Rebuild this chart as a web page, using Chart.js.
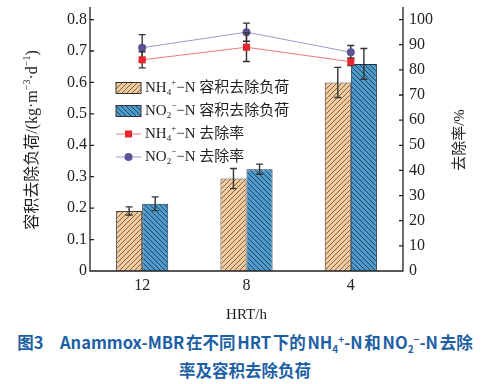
<!DOCTYPE html>
<html>
<head>
<meta charset="utf-8">
<script src="https://cdn.jsdelivr.net/npm/chart.js@4.4.1/dist/chart.umd.min.js"></script>
<style>
  html, body { margin: 0; padding: 0; background: #fff; width: 490px; height: 384px; overflow: hidden; }
  #wrap { position: relative; width: 490px; height: 328px; }
  #cap { width: 490px; text-align: center; color: #1d5fa5; font-family: "Noto Sans CJK SC", sans-serif;
         font-weight: 700; font-size: 16.5px; line-height: 28px; word-spacing: -2px; }
  #cap sub, #cap sup { font-size: 10px; line-height: 0; }
</style>
</head>
<body>
<div id="wrap"><canvas id="c"></canvas></div>
<div id="cap">图3　Anammox-MBR 在不同 HRT 下的 NH<sub>4</sub><sup>+</sup>-N 和 NO<sub>2</sub><sup>−</sup>-N 去除<br>率及容积去除负荷</div>
<script>
// 数据
const hrt = ["12", "8", "4"];
const nh4Load = [0.191, 0.294, 0.600];
const nh4LoadErr = [0.013, 0.032, 0.048];
const no2Load = [0.214, 0.324, 0.659];
const no2LoadErr = [0.022, 0.016, 0.049];
const nh4Rate = [84.0, 89.0, 83.2];
const nh4RateErr = [3.2, 5.7, 1.5];
const no2Rate = [88.8, 95.0, 87.0];
const no2RateErr = [5.2, 3.6, 2.7];
const loadTicks = [0, 0.1, 0.2, 0.3, 0.4, 0.5, 0.6, 0.7, 0.8];
const rateTicks = [0, 10, 20, 30, 40, 50, 60, 70, 80, 90, 100];

const SERIF = '"Liberation Serif", "Noto Sans CJK SC", serif';
const INK = "#222";

const canvas = document.getElementById("c");
const ctx0 = canvas.getContext("2d");

// 斜线填充
function hatch(bg, fg, dir) {
  const s = 5;
  const c = document.createElement("canvas");
  c.width = s; c.height = s;
  const g = c.getContext("2d");
  g.fillStyle = bg;
  g.fillRect(0, 0, s, s);
  g.strokeStyle = fg;
  g.lineWidth = 0.9;
  g.beginPath();
  if (dir > 0) {
    g.moveTo(0, s); g.lineTo(s, 0);
    g.moveTo(-1, 1); g.lineTo(1, -1);
    g.moveTo(s - 1, s + 1); g.lineTo(s + 1, s - 1);
  } else {
    g.moveTo(0, 0); g.lineTo(s, s);
    g.moveTo(-1, s - 1); g.lineTo(1, s + 1);
    g.moveTo(s - 1, -1); g.lineTo(s + 1, 1);
  }
  g.stroke();
  return ctx0.createPattern(c, "repeat");
}

const tanFill = hatch("#f3cb9c", "#6a5844", 1);
const blueFill = hatch("#4c9bca", "#1d3b58", -1);

// 上下标文字
function richText(ctx, runs, x, y, size, align) {
  const small = Math.round(size * 0.62);
  let w = 0;
  const parts = runs.map(([t, k]) => {
    ctx.font = (k ? small : size) + "px " + SERIF;
    const m = ctx.measureText(t).width;
    w += m;
    return [t, k, m];
  });
  let cx = align === "center" ? x - w / 2 : x;
  ctx.textBaseline = "middle";
  ctx.textAlign = "left";
  parts.forEach(([t, k, m]) => {
    ctx.font = (k ? small : size) + "px " + SERIF;
    const dy = k === 1 ? size * 0.32 : k === 2 ? -size * 0.36 : 0;
    ctx.fillText(t, cx, y + dy);
    cx += m;
  });
}

// 误差线
const errBars = {
  id: "errBars",
  draw(chart, i) {
    const ds = chart.data.datasets[i];
    if (!ds.err) return;
    const meta = chart.getDatasetMeta(i);
    const sc = chart.scales[ds.yAxisID];
    const ctx = chart.ctx;
    ctx.save();
    ctx.strokeStyle = "#333";
    ctx.lineWidth = 1.4;
    meta.data.forEach((el, j) => {
      const v = ds.data[j], e = ds.err[j];
      const y1 = sc.getPixelForValue(v + e), y2 = sc.getPixelForValue(v - e);
      ctx.beginPath();
      ctx.moveTo(el.x, y1); ctx.lineTo(el.x, y2);
      ctx.moveTo(el.x - 3.5, y1); ctx.lineTo(el.x + 3.5, y1);
      ctx.moveTo(el.x - 3.5, y2); ctx.lineTo(el.x + 3.5, y2);
      ctx.stroke();
    });
    ctx.restore();
  },
  beforeDatasetDraw(chart, args) {
    if (chart.data.datasets[args.index].type === "line") this.draw(chart, args.index);
  },
  afterDatasetDraw(chart, args) {
    if (chart.data.datasets[args.index].type !== "line") this.draw(chart, args.index);
  }
};

// 坐标轴、标题、图例
const frame = {
  id: "frame",
  afterDatasetsDraw(chart) {
    const { ctx, chartArea: a, scales } = chart;
    ctx.save();
    ctx.strokeStyle = INK;
    ctx.lineWidth = 1.3;
    ctx.beginPath();
    ctx.moveTo(a.left, a.top); ctx.lineTo(a.left, a.bottom); ctx.lineTo(a.right, a.bottom); ctx.lineTo(a.right, a.top);
    loadTicks.forEach(v => {
      const y = scales.y.getPixelForValue(v);
      ctx.moveTo(a.left, y); ctx.lineTo(a.left + 4, y);
    });
    rateTicks.forEach(v => {
      const y = scales.y1.getPixelForValue(v);
      ctx.moveTo(a.right, y); ctx.lineTo(a.right - 4, y);
    });
    ctx.stroke();
    ctx.restore();
  },
  afterDraw(chart) {
    const { ctx, chartArea: a } = chart;
    ctx.save();
    ctx.fillStyle = INK;
    // 轴标题
    ctx.save();
    ctx.translate(33, 140);
    ctx.rotate(-Math.PI / 2);
    richText(ctx, [["容积去除负荷/(kg·m", 0], ["−3", 2], ["·d", 0], ["−1", 2], [")", 0]], 0, 0, 16, "center");
    ctx.restore();
    ctx.save();
    ctx.translate(460, 140);
    ctx.rotate(-Math.PI / 2);
    richText(ctx, [["去除率/%", 0]], 0, 0, 15, "center");
    ctx.restore();
    richText(ctx, [["HRT/h", 0]], (a.left + a.right) / 2, 315, 15, "center");

    // 图例
    const lx = 116, tx = 145;
    const rows = [88, 111, 134, 157];
    const labels = [
      [["NH", 0], ["4", 1], ["+", 2], ["−N 容积去除负荷", 0]],
      [["NO", 0], ["2", 1], ["−", 2], ["−N 容积去除负荷", 0]],
      [["NH", 0], ["4", 1], ["+", 2], ["−N 去除率", 0]],
      [["NO", 0], ["2", 1], ["−", 2], ["−N 去除率", 0]]
    ];
    [tanFill, blueFill].forEach((f, i) => {
      ctx.fillStyle = f;
      ctx.fillRect(lx, rows[i] - 5.5, 25, 11);
      ctx.strokeStyle = "#333";
      ctx.lineWidth = 1;
      ctx.strokeRect(lx, rows[i] - 5.5, 25, 11);
    });
    const lineCols = ["#f07a7a", "#9a98cf"];
    const markCols = ["#e5262e", "#5a5494"];
    [2, 3].forEach((r, i) => {
      const y = rows[r];
      ctx.strokeStyle = lineCols[i];
      ctx.lineWidth = 1;
      ctx.beginPath(); ctx.moveTo(lx, y); ctx.lineTo(lx + 25, y); ctx.stroke();
      ctx.fillStyle = markCols[i];
      if (i === 0) ctx.fillRect(lx + 12.5 - 3.5, y - 3.5, 7, 7);
      else { ctx.beginPath(); ctx.arc(lx + 12.5, y, 4, 0, Math.PI * 2); ctx.fill(); }
    });
    ctx.fillStyle = INK;
    labels.forEach((runs, i) => richText(ctx, runs, tx, rows[i], 15, "left"));
    ctx.restore();
  }
};

const tickFont = { family: SERIF, size: 16 };

new Chart(canvas, {
  data: {
    labels: hrt,
    datasets: [
      {
        type: "line", label: "NH4+-N去除率", data: nh4Rate, err: nh4RateErr, yAxisID: "y1", order: 0,
        borderColor: "#f07a7a", borderWidth: 1, pointStyle: "rect", pointRadius: 5,
        pointBackgroundColor: "#e5262e", pointBorderColor: "#e5262e", pointBorderWidth: 0
      },
      {
        type: "line", label: "NO2−-N去除率", data: no2Rate, err: no2RateErr, yAxisID: "y1", order: 1,
        borderColor: "#9a98cf", borderWidth: 1, pointStyle: "circle", pointRadius: 4,
        pointBackgroundColor: "#5a5494", pointBorderColor: "#5a5494", pointBorderWidth: 0
      },
      {
        type: "bar", label: "NH4+-N容积去除负荷", data: nh4Load, err: nh4LoadErr, yAxisID: "y", order: 2,
        backgroundColor: tanFill, borderColor: "#4a4038", borderWidth: 1,
        categoryPercentage: 0.5, barPercentage: 1.0
      },
      {
        type: "bar", label: "NO2−-N容积去除负荷", data: no2Load, err: no2LoadErr, yAxisID: "y", order: 2,
        backgroundColor: blueFill, borderColor: "#1f3347", borderWidth: 1,
        categoryPercentage: 0.5, barPercentage: 1.0
      }
    ]
  },
  options: {
    responsive: true,
    maintainAspectRatio: false,
    animation: false,
    layout: { padding: { top: 7 } },
    plugins: { legend: { display: false }, tooltip: { enabled: false } },
    scales: {
      x: {
        offset: true,
        grid: { display: false, drawTicks: false },
        border: { display: false },
        ticks: { font: tickFont, color: INK, padding: 5 },
        afterFit: s => { s.height = 57; s.paddingLeft = 0; s.paddingRight = 0; }
      },
      y: {
        position: "left", min: 0, max: 0.84,
        afterBuildTicks: s => { s.ticks = loadTicks.map(v => ({ value: v })); },
        grid: { display: false, drawTicks: false },
        border: { display: false },
        ticks: { font: tickFont, color: INK, padding: 3, callback: v => v === 0 ? "0" : v.toFixed(1) },
        afterFit: s => { s.width = 90; s.paddingTop = 0; s.paddingBottom = 0; }
      },
      y1: {
        position: "right", min: 0, max: 105,
        afterBuildTicks: s => { s.ticks = rateTicks.map(v => ({ value: v })); },
        grid: { display: false, drawTicks: false },
        border: { display: false },
        ticks: { font: tickFont, color: INK, padding: 6, callback: v => String(v) },
        afterFit: s => { s.width = 87; s.paddingTop = 0; s.paddingBottom = 0; }
      }
    }
  },
  plugins: [errBars, frame]
});
</script>
</body>
</html>
